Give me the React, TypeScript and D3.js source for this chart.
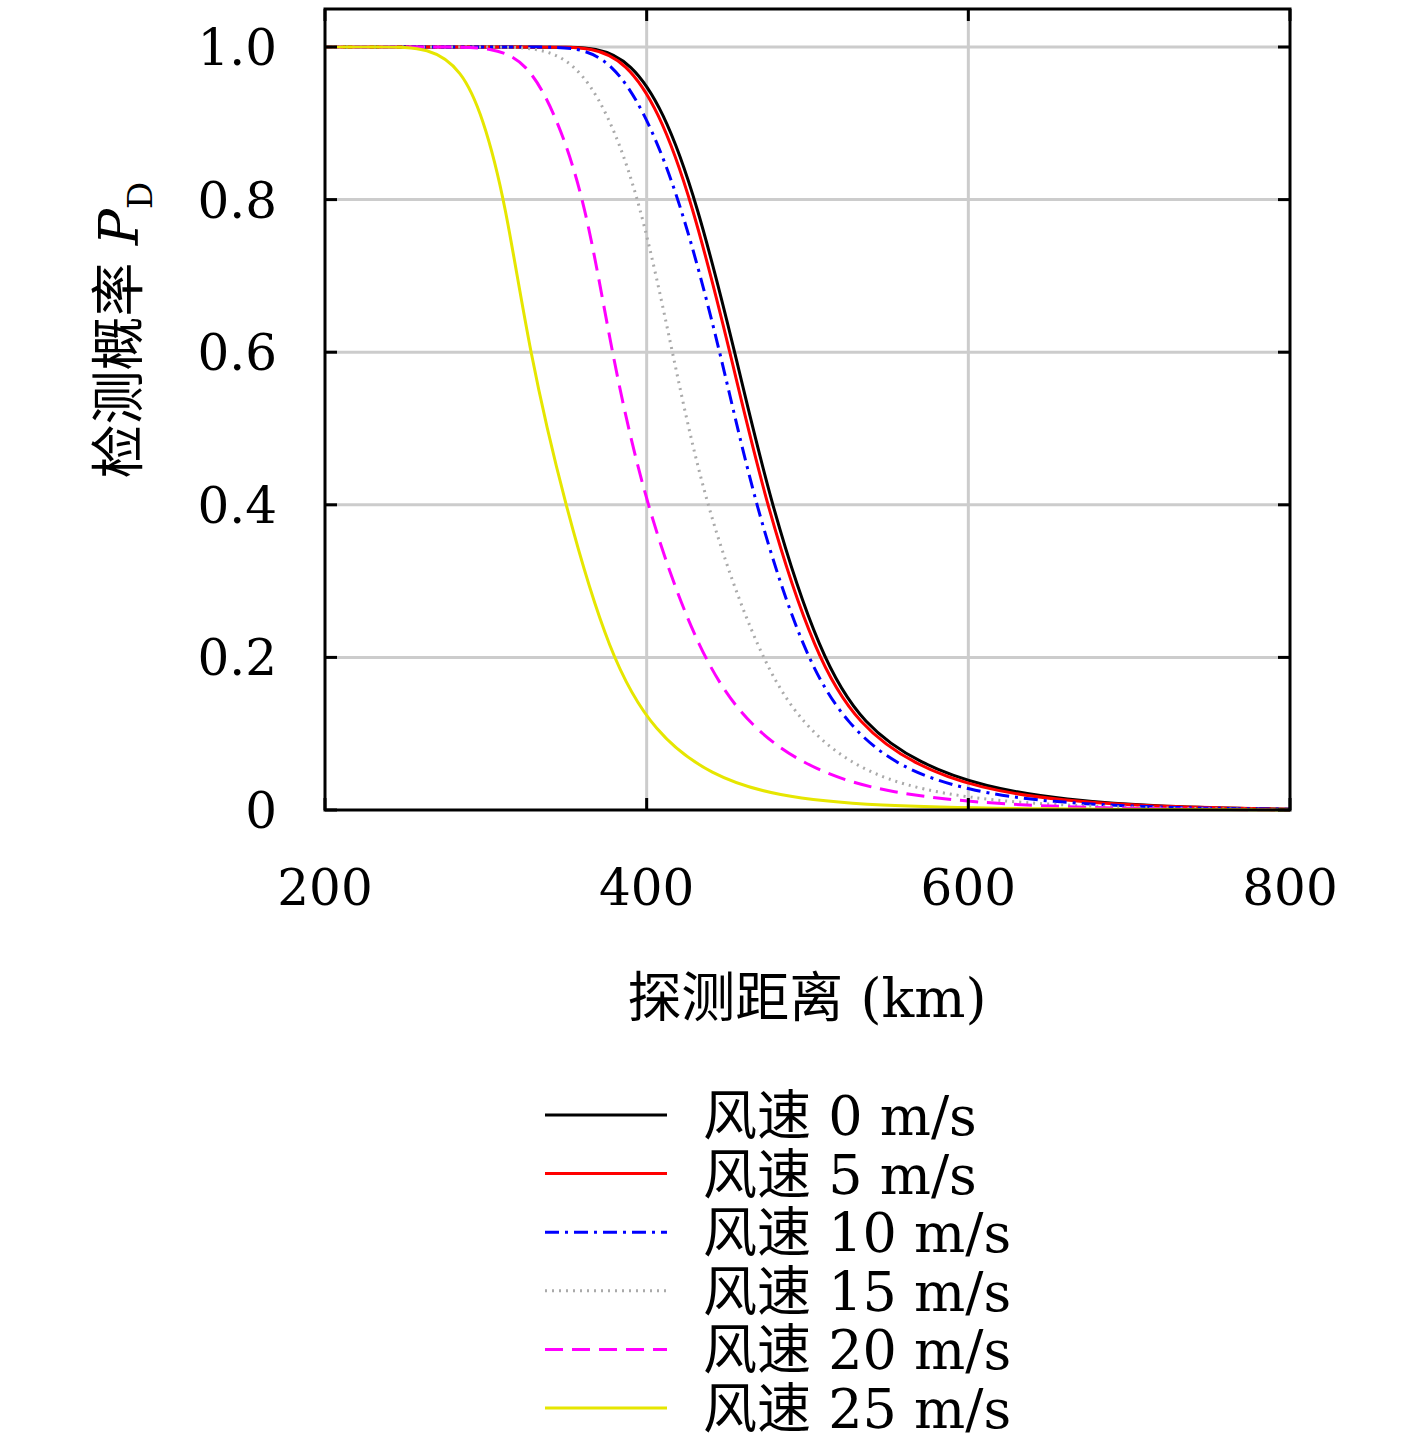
import React, { useRef, useEffect } from 'react';
import * as d3 from 'd3';

type Pt = [number, number];

const xTicks = [200, 400, 600, 800];
const yTicks = [0, 0.2, 0.4, 0.6, 0.8, 1.0];
const yTickLabels = ['0', '0.2', '0.4', '0.6', '0.8', '1.0'];

const wind0: Pt[] = [[200, 1], [340, 1], [370, 1], [390, 0.98], [410, 0.92], [431, 0.8], [455, 0.6], [477, 0.4], [508, 0.2], [535, 0.11], [570, 0.06], [610, 0.03], [660, 0.013], [720, 0.004], [800, 0.001]];
const wind5: Pt[] = [[200, 1], [337, 1], [367, 1], [387, 0.98], [407, 0.92], [428, 0.8], [452, 0.6], [474, 0.4], [505, 0.2], [532, 0.11], [567, 0.058], [607, 0.028], [657, 0.012], [720, 0.004], [800, 0.001]];
const wind10: Pt[] = [[200, 1], [330, 1], [358, 1], [378, 0.98], [398, 0.92], [421, 0.8], [446, 0.6], [467, 0.4], [498, 0.2], [525, 0.11], [557, 0.055], [600, 0.025], [650, 0.01], [720, 0.003], [800, 0.001]];
const wind15: Pt[] = [[200, 1], [300, 1], [333, 1], [355, 0.98], [375, 0.92], [396, 0.8], [416, 0.6], [436, 0.4], [470, 0.2], [497, 0.11], [530, 0.055], [570, 0.025], [630, 0.008], [720, 0.002], [800, 0.0005]];
const wind20: Pt[] = [[200, 1], [270, 1], [305, 1], [325, 0.98], [342, 0.92], [362, 0.8], [378, 0.6], [399, 0.4], [433, 0.2], [465, 0.105], [505, 0.05], [550, 0.022], [620, 0.006], [720, 0.001], [800, 0]];
const wind25: Pt[] = [[200, 1], [235, 1], [265, 1], [285, 0.97], [298, 0.91], [312, 0.8], [327, 0.6], [349, 0.4], [377, 0.2], [405, 0.1], [440, 0.045], [480, 0.018], [540, 0.005], [640, 0.001], [800, 0]];

const series = [
  { name: '风速 0 m/s', data: wind0, color: '#000000', dash: '' },
  { name: '风速 5 m/s', data: wind5, color: '#ff0000', dash: '' },
  { name: '风速 10 m/s', data: wind10, color: '#0000ff', dash: '14,6,3,6' },
  { name: '风速 15 m/s', data: wind15, color: '#aaaaaa', dash: '2,5' },
  { name: '风速 20 m/s', data: wind20, color: '#ff00ff', dash: '18,9' },
  { name: '风速 25 m/s', data: wind25, color: '#e6e600', dash: '' },
];

const App: React.FC = () => {
  const svgRef = useRef<SVGSVGElement>(null);

  useEffect(() => {
    if (!svgRef.current) return;
    const svg = d3.select(svgRef.current);
    svg.selectAll('*').remove();
    const serif = '"DejaVu Serif", "Noto Sans CJK SC", serif';

    const x = d3.scaleLinear().domain([200, 800]).range([325, 1290]);
    const y = d3.scaleLinear().domain([0, 1]).range([810, 47]);

    const grid = svg.append('g').attr('stroke', '#cccccc').attr('stroke-width', 3);
    xTicks.slice(1, -1).forEach(t => grid.append('line').attr('x1', x(t)).attr('x2', x(t)).attr('y1', y(0)).attr('y2', y(1) - 38));
    yTicks.slice(1).forEach(t => grid.append('line').attr('x1', x(200)).attr('x2', x(800)).attr('y1', y(t)).attr('y2', y(t)));

    const line = d3.line<Pt>().x(d => x(d[0])).y(d => y(d[1])).curve(d3.curveBasis);
    series.forEach(s => {
      svg.append('path').attr('d', line(s.data)).attr('fill', 'none')
        .attr('stroke', s.color).attr('stroke-width', 3).attr('stroke-dasharray', s.dash);
    });

    const ticks = svg.append('g').attr('stroke', '#000').attr('stroke-width', 3);
    xTicks.forEach(t => {
      ticks.append('line').attr('x1', x(t)).attr('x2', x(t)).attr('y1', y(0)).attr('y2', y(0) - 12);
      ticks.append('line').attr('x1', x(t)).attr('x2', x(t)).attr('y1', y(1) - 38).attr('y2', y(1) - 26);
    });
    yTicks.forEach(t => {
      ticks.append('line').attr('x1', x(200)).attr('x2', x(200) + 12).attr('y1', y(t)).attr('y2', y(t));
      ticks.append('line').attr('x1', x(800)).attr('x2', x(800) - 12).attr('y1', y(t)).attr('y2', y(t));
    });
    svg.append('rect').attr('x', x(200)).attr('y', y(1) - 38).attr('width', x(800) - x(200)).attr('height', y(0) - y(1) + 38)
      .attr('fill', 'none').attr('stroke', '#000').attr('stroke-width', 3);

    const txt = svg.append('g').attr('font-family', serif).attr('fill', '#000');
    xTicks.forEach(t => txt.append('text').attr('x', x(t)).attr('y', 905).attr('text-anchor', 'middle').attr('font-size', 50).text(String(t)));
    yTicks.forEach((t, i) => txt.append('text').attr('x', 277).attr('y', y(t) + 18).attr('text-anchor', 'end').attr('font-size', 50).text(yTickLabels[i]));

    txt.append('text').attr('x', 807).attr('y', 1017).attr('text-anchor', 'middle').attr('font-size', 54).text('探测距离 (km)');
    const yt = txt.append('text').attr('transform', 'translate(138,330) rotate(-90)').attr('text-anchor', 'middle').attr('font-size', 54);
    yt.append('tspan').text('检测概率 ');
    yt.append('tspan').attr('font-style', 'italic').text('P');
    yt.append('tspan').attr('font-size', 34).attr('dy', 14).text('D');

    series.forEach((s, i) => {
      const ly = 1115 + i * 58.6;
      svg.append('line').attr('x1', 545).attr('x2', 667).attr('y1', ly).attr('y2', ly)
        .attr('stroke', s.color).attr('stroke-width', 3).attr('stroke-dasharray', s.dash);
      txt.append('text').attr('x', 703).attr('y', ly + 20).attr('font-size', 54).text(s.name);
    });
  }, []);

  return <svg ref={svgRef} width={1417} height={1453} style={{ position: 'absolute', left: 0, top: 0, background: '#fff' }} />;
};

export default App;
